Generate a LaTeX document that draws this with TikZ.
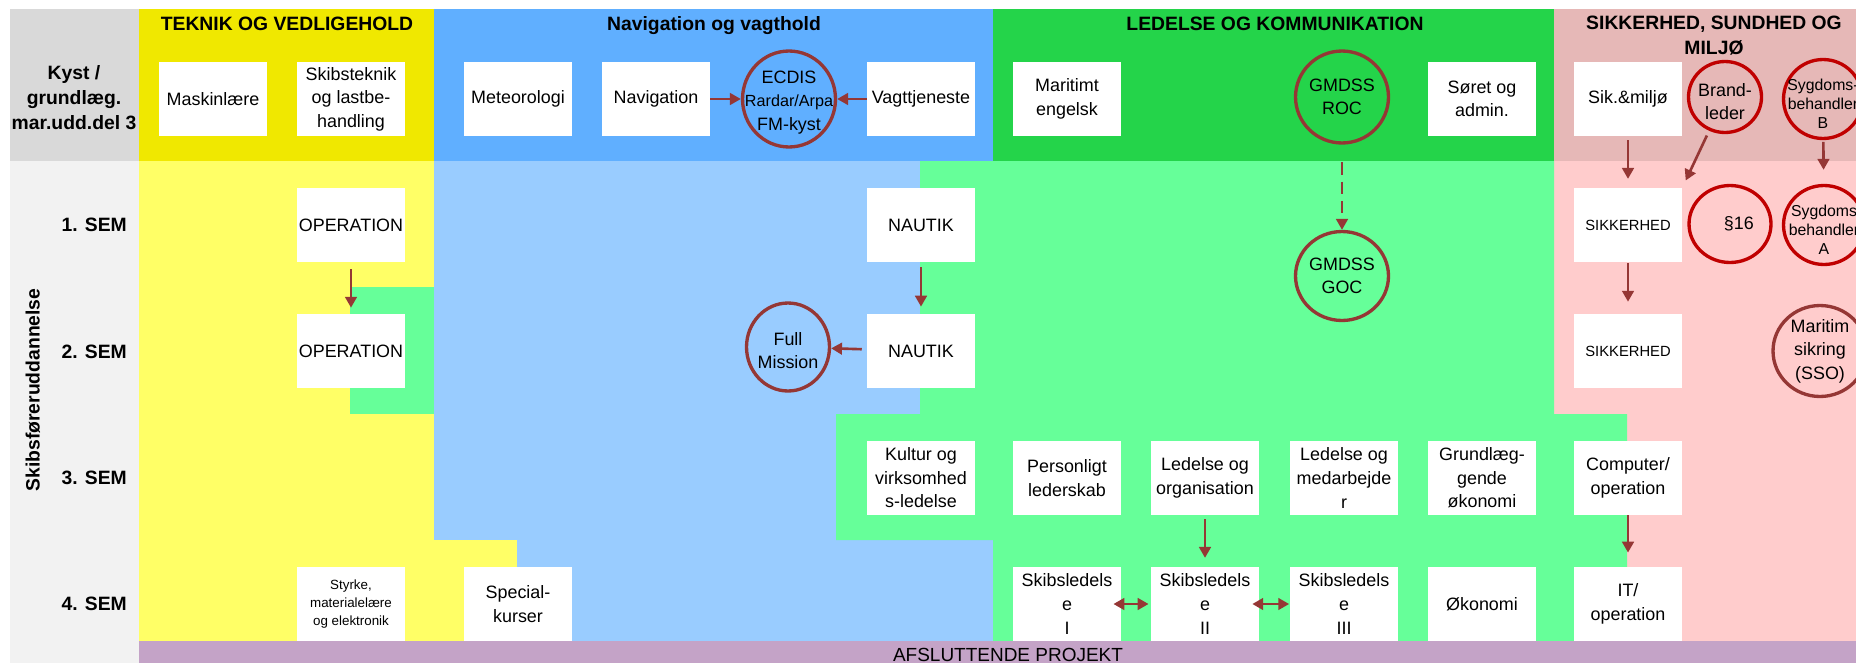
\documentclass[tikz,border=0pt]{standalone}
\usepackage{fontspec}
\setmainfont{Liberation Sans}
\usetikzlibrary{shapes.geometric,arrows.meta}

\definecolor{graamoerk}{HTML}{D9D9D9}
\definecolor{graalys}{HTML}{F2F2F2}
\definecolor{gulmoerk}{HTML}{F0E800}
\definecolor{gullys}{HTML}{FFFF66}
\definecolor{blaamoerk}{HTML}{60AFFF}
\definecolor{blaalys}{HTML}{99CCFF}
\definecolor{groenmoerk}{HTML}{24D44A}
\definecolor{groenlys}{HTML}{66FF99}
\definecolor{rosamoerk}{HTML}{E6B8B7}
\definecolor{rosalys}{HTML}{FFCCCC}
\definecolor{lilla}{HTML}{C4A3C7}
\definecolor{pilrod}{HTML}{953735}
\definecolor{klarrod}{HTML}{C00000}

\newcommand{\fagfont}{\fontsize{10.2}{13.4}\selectfont}
\newcommand{\titelfont}{\bfseries\fontsize{11}{14.2}\selectfont}

\begin{document}
\begin{tikzpicture}[x=0.02cm, y=-0.02cm,
    >={Triangle[length=6.2pt,width=6.6pt]},
    fag/.style={fill=white, minimum width=2.16cm, minimum height=1.48cm, inner sep=1pt, align=center, font=\fagfont},
    rund/.style={ellipse, draw=pilrod, line width=1.9pt, inner sep=0pt},
    rundrod/.style={rund, draw=klarrod},
    ctekst/.style={align=center, font=\fagfont},
    pil/.style={->, color=pilrod, line width=1.5pt},
    titel/.style={font=\titelfont}]
    \useasboundingbox (0,0) rectangle (1856,663);

    % Header band
    \fill[graamoerk] (9.5,9) rectangle (139,161);
    \fill[gulmoerk] (139,9) rectangle (434,161);
    \fill[blaamoerk] (434,9) rectangle (993,161);
    \fill[groenmoerk] (993,9) rectangle (1554,161);
    \fill[rosamoerk] (1554,9) rectangle (1856,161);

    % Semester area
    \fill[graalys] (9.5,161) rectangle (139,663);
    \fill[blaalys] (434,161) rectangle (993,641);
    \fill[rosalys] (1554,161) rectangle (1856,641);
    \fill[gullys] (139,161) rectangle (434,641);
    \fill[gullys] (434,540) rectangle (517,641);
    \fill[groenlys] (920,161) -- (1554,161) -- (1554,414) -- (1627,414) -- (1627,641)
        -- (993,641) -- (993,540) -- (836,540) -- (836,414) -- (920,414) -- cycle;
    \fill[groenlys] (350,287) rectangle (434,414);
    \fill[lilla] (139,641) rectangle (1856,663);

    % Titles
    \node[titel, anchor=base] (tTeknik) at (287,30) {TEKNIK OG VEDLIGEHOLD};
    \node[titel, anchor=base] (tNavigation) at (714,30) {Navigation og vagthold};
    \node[titel, anchor=base] (tLedelse) at (1275,30) {LEDELSE OG KOMMUNIKATION};
    \node[titel, align=center] (tSikkerhed) at (1714,36) {SIKKERHED, SUNDHED OG\\MILJØ};
    \node[titel, align=center] (kyst) at (74,98) {Kyst /\\grundlæg.\\mar.udd.del 3};
    \node[titel, rotate=90] (skibsfoerer) at (33,390) {Skibsføreruddannelse};
    \node[titel, anchor=east] (sem1) at (133,225) {1. SEM};
    \node[titel, anchor=east] (sem2) at (133,352) {2. SEM};
    \node[titel, anchor=east] (sem3) at (133,478) {3. SEM};
    \node[titel, anchor=east] (sem4) at (133,604) {4. SEM};
    \node[anchor=base, font=\fontsize{10.8}{13}\selectfont] (projekt) at (1008,661) {AFSLUTTENDE PROJEKT};

    % Kyst row
    \node[fag] (maskin) at (213,99) {Maskinlære};
    \node[fag] (skibstek) at (351,99) {Skibsteknik\\og lastbe-\\handling};
    \node[fag] (meteo) at (518,99) {Meteorologi};
    \node[fag] (navigation) at (656,99) {Navigation};
    \node[rund, minimum width=1.86cm, minimum height=1.92cm,
        label={[ctekst, yshift=-2pt]center:{ECDIS\\{\fontsize{9.2}{11}\selectfont Rardar/Arpa}\\FM-kyst}}] (ecdis) at (789,99) {};
    \node[fag] (vagt) at (921,99) {Vagttjeneste};
    \node[fag] (engelsk) at (1067,99) {Maritimt\\engelsk};
    \node[rund, minimum width=1.86cm, minimum height=1.84cm,
        label={[ctekst]center:{GMDSS\\ROC}}] (roc) at (1342,97) {};
    \node[fag] (soeret) at (1482,99) {Søret og\\admin.};
    \node[fag] (sikmiljoe) at (1628,99) {Sik.\&miljø};
    \node[rundrod, minimum width=1.46cm, minimum height=1.42cm,
        label={[ctekst, yshift=-2.5pt]center:{Brand-\\leder}}] (brand) at (1725,97) {};
    \node[rundrod, minimum width=1.58cm, minimum height=1.58cm,
        label={[ctekst, yshift=-2.5pt, font=\fontsize{9}{10.8}\selectfont]center:{Sygdoms-\\behandler\\B}}] (sygB) at (1823,99) {};

    % 1. SEM
    \node[fag] (op1) at (351,225) {OPERATION};
    \node[fag] (nautik1) at (921,225) {NAUTIK};
    \node[rund, minimum width=1.86cm, minimum height=1.78cm,
        label={[ctekst]center:{GMDSS\\GOC}}] (goc) at (1342,276) {};
    \node[fag, font=\fontsize{8.4}{10}\selectfont] (sik1) at (1628,225) {SIKKERHED};
    \node[rundrod, minimum width=1.64cm, minimum height=1.54cm,
        label={[ctekst, xshift=5pt]center:{§16}}] (par16) at (1730,224) {};
    \node[rundrod, minimum width=1.62cm, minimum height=1.58cm,
        label={[ctekst, yshift=-2.5pt, font=\fontsize{9}{10.8}\selectfont]center:{Sygdoms\\behandler\\A}}] (sygA) at (1824,225) {};

    % 2. SEM
    \node[fag] (op2) at (351,351) {OPERATION};
    \node[rund, minimum width=1.66cm, minimum height=1.76cm,
        label={[ctekst, yshift=-2pt]center:{Full\\Mission}}] (fullmission) at (788,347) {};
    \node[fag] (nautik2) at (921,351) {NAUTIK};
    \node[fag, font=\fontsize{8.4}{10}\selectfont] (sik2) at (1628,351) {SIKKERHED};
    \node[rund, minimum width=1.88cm, minimum height=1.82cm,
        label={[ctekst]center:{Maritim\\sikring\\(SSO)}}] (maritim) at (1820,351) {};

    % 3. SEM
    \node[fag] (kultur) at (921,478) {Kultur og\\virksomhed\\s-ledelse};
    \node[fag] (personligt) at (1067,478) {Personligt\\lederskab};
    \node[fag] (ledorg) at (1205,478) {Ledelse og\\organisation};
    \node[fag] (ledmed) at (1344,478) {Ledelse og\\medarbejde\\r};
    \node[fag] (grundl) at (1482,478) {Grundlæg-\\gende\\økonomi};
    \node[fag] (computer) at (1628,478) {Computer/\\operation};

    % 4. SEM
    \node[fag, font=\fontsize{7.6}{10}\selectfont] (styrke) at (351,604) {Styrke,\\materialelære\\og elektronik};
    \node[fag] (special) at (518,604) {Special-\\kurser};
    \node[fag] (skib1) at (1067,604) {Skibsledels\\e\\I};
    \node[fag] (skib2) at (1205,604) {Skibsledels\\e\\II};
    \node[fag] (skib3) at (1344,604) {Skibsledels\\e\\III};
    \node[fag] (oekonomi) at (1482,604) {Økonomi};
    \node[fag] (it) at (1628,604) {IT/\\operation};

    % Arrows
    \draw[pil] (navigation) -- (ecdis);
    \draw[pil] (vagt) -- (ecdis);
    \draw[pil, shorten <=4pt, shorten >=3.4pt] (op1) -- (op2);
    \draw[pil, shorten <=2.8pt, shorten >=4pt] (nautik1) -- (nautik2);
    \draw[pil, shorten <=2.8pt] (nautik2) -- (fullmission);
    \draw[pil, dash pattern=on 7pt off 4pt, shorten <=10pt] (roc) -- (goc);
    \draw[pil, shorten <=2.3pt, shorten >=5pt] (ledorg) -- (skib2);
    \draw[pil, <->, shorten <=-4.5pt, shorten >=1.2pt] (skib1) -- (skib2);
    \draw[pil, <->, shorten <=-4pt, shorten >=0.3pt] (skib2) -- (skib3);
    \draw[pil, shorten >=8pt] (computer) -- (it);
    \draw[pil, shorten <=2.3pt, shorten >=5pt] (sikmiljoe) -- (sik1);
    \draw[pil, shorten <=3pt, shorten >=4.5pt] (brand) -- (sik1.north east);
    \draw[pil, shorten <=1pt, shorten >=8pt] (sygB) -- (sygA);
    \draw[pil, shorten <=0.5pt, shorten >=6.8pt] (sik1) -- (sik2);
\end{tikzpicture}
\end{document}
